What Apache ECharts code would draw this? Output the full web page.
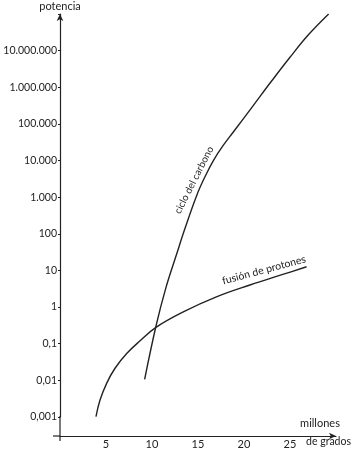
<!DOCTYPE html>
<html>
<head>
<meta charset="utf-8">
<script src="https://cdn.jsdelivr.net/npm/echarts@6/dist/echarts.min.js"></script>
<style>
html,body{margin:0;padding:0;background:#fff;}
#c{width:352px;height:450px;}
</style>
</head>
<body>
<div id="c"></div>
<script>
// Data (x: millones de grados, y: potencia, log scale)
const xTickValues = [5, 10, 15, 20, 25];
const yTickLabels = ['0,001', '0,01', '0,1', '1', '10', '100', '1.000', '10.000', '100.000', '1.000.000', '10.000.000'];
const protonX = [3.91, 4.35, 5.07, 5.98, 7.25, 8.7, 10.43, 13.4, 17.0, 20.65, 24.3, 26.8];
const protonY = [0.00102, 0.0029, 0.0083, 0.0214, 0.054, 0.12, 0.28, 0.74, 1.9, 4.0, 7.9, 12.6];
const carbonX = [9.2, 10.43, 11.5, 12.68, 13.59, 14.86, 15.8, 16.67, 17.7, 18.84, 21.0, 23.0, 25.0, 27.0, 29.2];
const carbonY = [0.0107, 0.30, 3.3, 28, 141, 1120, 3800, 10000, 25000, 60000, 316000, 1480000, 6600000, 27000000, 100000000];

const FONT = 'Lato, "Noto Sans", sans-serif';
const INK = '#222';

const chart = echarts.init(document.getElementById('c'));
chart.setOption({
  animation: false,
  backgroundColor: '#fff',
  grid: { left: 60, right: 16, top: 14, bottom: 33, containLabel: false },
  xAxis: {
    type: 'value', min: 0, max: 30, interval: 5, offset: 19,
    axisLine: { show: true, onZero: false, lineStyle: { color: INK, width: 1.2 }, symbol: ['none', 'arrow'], symbolSize: [5, 7] },
    axisTick: { show: false },
    splitLine: { show: false },
    axisLabel: {
      color: INK, fontFamily: FONT, fontSize: 11, margin: 3,
      formatter: v => xTickValues.indexOf(v) >= 0 ? String(v) : ''
    }
  },
  yAxis: {
    type: 'log', logBase: 10, min: 0.001, max: 100000000, interval: 1,
    name: 'potencia', nameLocation: 'end', nameGap: 2,
    nameTextStyle: { color: INK, fontFamily: FONT, fontSize: 11, align: 'center', verticalAlign: 'bottom' },
    axisLine: { show: true, lineStyle: { color: INK, width: 1.2 }, symbol: ['none', 'arrow'], symbolSize: [5, 7] },
    axisTick: { show: true, length: 2, lineStyle: { color: INK } },
    splitLine: { show: false },
    axisLabel: {
      color: INK, fontFamily: FONT, fontSize: 10.5, margin: 3,
      formatter: v => {
        const e = Math.round(Math.log10(v));
        const i = e + 3;
        return (i >= 0 && i < yTickLabels.length) ? yTickLabels[i] : '';
      }
    }
  },
  series: [
    {
      name: 'fusión de protones', type: 'line', smooth: 0.4, showSymbol: false,
      lineStyle: { color: INK, width: 1.4 },
      data: protonX.map((x, i) => [x, protonY[i]])
    },
    {
      name: 'ciclo del carbono', type: 'line', smooth: 0.4, showSymbol: false,
      lineStyle: { color: INK, width: 1.4 },
      data: carbonX.map((x, i) => [x, carbonY[i]])
    }
  ],
  graphic: [
    { type: 'line', shape: { x1: 53, y1: 436, x2: 60, y2: 436 }, style: { stroke: INK, lineWidth: 1.2 } },
    { type: 'line', shape: { x1: 60, y1: 416, x2: 60, y2: 441 }, style: { stroke: INK, lineWidth: 1.2 } },
    { type: 'text', x: 320, y: 423, style: { text: 'millones', fill: INK, font: '11px ' + FONT, align: 'center', verticalAlign: 'middle' } },
    { type: 'text', x: 351, y: 442, style: { text: 'de grados', fill: INK, font: '10.5px ' + FONT, align: 'right', verticalAlign: 'middle' } },
    { type: 'text', x: 194, y: 180, rotation: 63 * Math.PI / 180, style: { text: 'ciclo del carbono', fill: INK, font: '10px ' + FONT, align: 'center', verticalAlign: 'middle' } },
    { type: 'text', x: 264, y: 270, rotation: 15 * Math.PI / 180, style: { text: 'fusión de protones', fill: INK, font: '10.5px ' + FONT, align: 'center', verticalAlign: 'middle' } }
  ]
});
</script>
</body>
</html>
